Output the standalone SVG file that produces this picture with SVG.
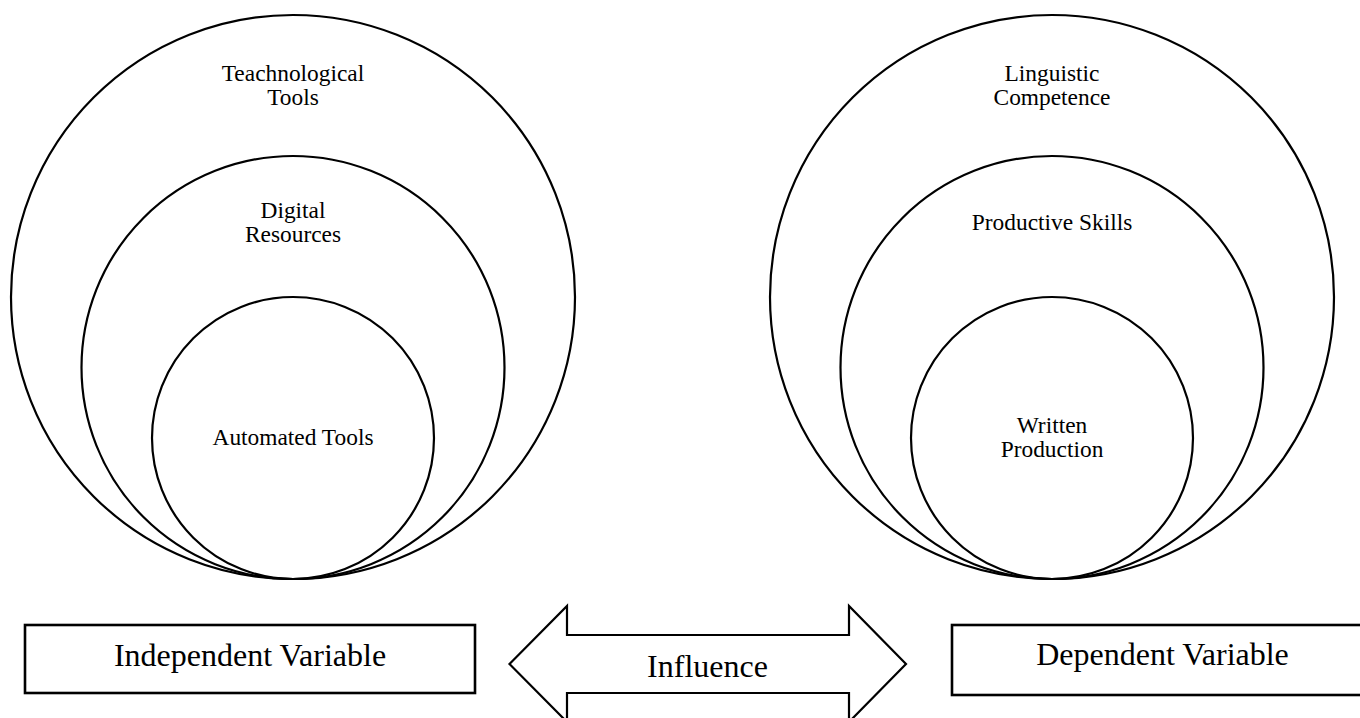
<svg xmlns="http://www.w3.org/2000/svg" width="1360" height="718" viewBox="0 0 1360 718">
<style>
  .c { fill: none; stroke: #000; stroke-width: 2.2; }
  .b { fill: #fff; stroke: #000; stroke-width: 2.6; }
  .s { font-family: "Liberation Serif", "Times New Roman", serif; font-size: 23.4px; fill: #000; text-anchor: middle; }
  .l { font-family: "Liberation Serif", "Times New Roman", serif; font-size: 32px; fill: #000; text-anchor: middle; }
</style>
<rect width="1360" height="718" fill="#fff"/>
<g id="independent-circles">
  <g id="teachnological-tools">
    <circle class="c" cx="293" cy="297" r="282"/>
    <text class="s" x="293" y="81">Teachnological</text>
    <text class="s" x="293" y="105">Tools</text>
  </g>
  <g id="digital-resources">
    <circle class="c" cx="293" cy="367.5" r="211.5"/>
    <text class="s" x="293" y="218">Digital</text>
    <text class="s" x="293" y="242">Resources</text>
  </g>
  <g id="automated-tools">
    <circle class="c" cx="293" cy="438" r="141"/>
    <text class="s" x="293" y="445">Automated Tools</text>
  </g>
</g>
<g id="dependent-circles">
  <g id="linguistic-competence">
    <circle class="c" cx="1052" cy="297" r="282"/>
    <text class="s" x="1052" y="81">Linguistic</text>
    <text class="s" x="1052" y="105">Competence</text>
  </g>
  <g id="productive-skills">
    <circle class="c" cx="1052" cy="367.5" r="211.5"/>
    <text class="s" x="1052" y="230">Productive Skills</text>
  </g>
  <g id="written-production">
    <circle class="c" cx="1052" cy="438" r="141"/>
    <text class="s" x="1052" y="433">Written</text>
    <text class="s" x="1052" y="457">Production</text>
  </g>
</g>
<g id="independent-variable">
  <rect class="b" x="25" y="625" width="450" height="68"/>
  <text class="l" x="250" y="666">Independent Variable</text>
</g>
<g id="dependent-variable">
  <rect class="b" x="952" y="625" width="421" height="70"/>
  <text class="l" x="1162.5" y="665">Dependent Variable</text>
</g>
<g id="connectors">
  <g id="influence">
    <polygon fill="#fff" stroke="#000" stroke-width="2.2" stroke-linejoin="miter" points="509.5,664 567,606 567,635 849,635 849,606 906,664 849,722 849,693 567,693 567,722"/>
    <text class="l" x="707.5" y="677">Influence</text>
  </g>
</g>
</svg>
